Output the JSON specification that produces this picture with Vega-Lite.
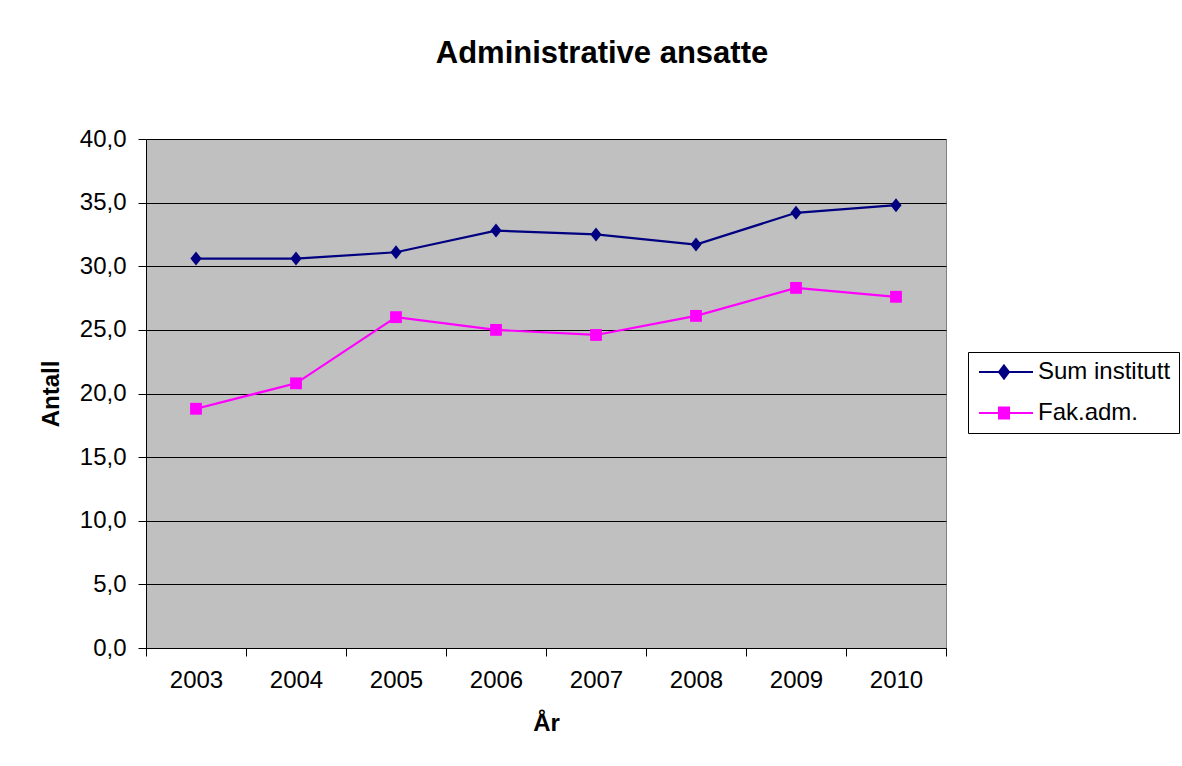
{
  "$schema": "https://vega.github.io/schema/vega-lite/v6.json",
  "width": 800,
  "height": 509,
  "autosize": {"type": "none"},
  "padding": {"left": 146, "top": 139, "right": 236, "bottom": 118},
  "background": "white",
  "title": {
    "text": "Administrative ansatte",
    "font": "Liberation Sans",
    "fontSize": 31,
    "fontWeight": "bold",
    "color": "black",
    "anchor": "middle",
    "frame": "group",
    "baseline": "alphabetic",
    "offset": 33,
    "dx": 56
  },
  "data": {
    "values": [
      {"year": "2003", "series": "Sum institutt", "value": 30.6},
      {"year": "2004", "series": "Sum institutt", "value": 30.6},
      {"year": "2005", "series": "Sum institutt", "value": 31.1},
      {"year": "2006", "series": "Sum institutt", "value": 32.8},
      {"year": "2007", "series": "Sum institutt", "value": 32.5},
      {"year": "2008", "series": "Sum institutt", "value": 31.7},
      {"year": "2009", "series": "Sum institutt", "value": 34.2},
      {"year": "2010", "series": "Sum institutt", "value": 34.8},
      {"year": "2003", "series": "Fak.adm.", "value": 18.8},
      {"year": "2004", "series": "Fak.adm.", "value": 20.8},
      {"year": "2005", "series": "Fak.adm.", "value": 26.0},
      {"year": "2006", "series": "Fak.adm.", "value": 25.0},
      {"year": "2007", "series": "Fak.adm.", "value": 24.6},
      {"year": "2008", "series": "Fak.adm.", "value": 26.1},
      {"year": "2009", "series": "Fak.adm.", "value": 28.3},
      {"year": "2010", "series": "Fak.adm.", "value": 27.6}
    ]
  },
  "encoding": {
    "x": {
      "field": "year",
      "type": "ordinal",
      "scale": {"type": "band", "paddingInner": 0, "paddingOuter": 0},
      "axis": {
        "title": "År",
        "tickBand": "extent",
        "labelAngle": 0,
        "labelFontSize": 24,
        "labelFont": "Liberation Sans",
        "labelColor": "black",
        "labelPadding": 12,
        "tickSize": 8,
        "tickColor": "black",
        "domainColor": "black",
        "titleFont": "Liberation Sans",
        "titleFontSize": 24,
        "titleFontWeight": "bold",
        "titleColor": "black",
        "titlePadding": 19,
        "grid": false
      }
    },
    "y": {
      "field": "value",
      "type": "quantitative",
      "scale": {"domain": [0, 40], "nice": false, "zero": true},
      "axis": {
        "title": "Antall",
        "values": [0, 5, 10, 15, 20, 25, 30, 35, 40],
        "labelExpr": "replace(format(datum.value, '.1f'), '.', ',')",
        "labelFontSize": 24,
        "labelFont": "Liberation Sans",
        "labelColor": "black",
        "labelPadding": 12,
        "tickSize": 8,
        "tickColor": "black",
        "domainColor": "black",
        "grid": true,
        "gridColor": "black",
        "gridOpacity": 1,
        "gridWidth": 1,
        "titleFont": "Liberation Sans",
        "titleFontSize": 24,
        "titleFontWeight": "bold",
        "titleColor": "black",
        "titlePadding": 16
      }
    },
    "color": {
      "field": "series",
      "type": "nominal",
      "scale": {"domain": ["Sum institutt", "Fak.adm."], "range": ["#000080", "#FF00FF"]}
    }
  },
  "layer": [
    {
      "mark": {"type": "line", "strokeWidth": 2.2}
    },
    {
      "transform": [{"filter": "datum.series === 'Sum institutt'"}],
      "mark": {"type": "point", "filled": true, "opacity": 1, "shape": "M0,-1L0.8,0L0,1L-0.8,0Z", "size": 196}
    },
    {
      "transform": [{"filter": "datum.series === 'Fak.adm.'"}],
      "mark": {"type": "point", "filled": true, "opacity": 1, "shape": "square", "size": 140}
    },
    {
      "mark": {"type": "point", "filled": true, "opacity": 0},
      "encoding": {
        "shape": {
          "field": "series",
          "type": "nominal",
          "scale": {
            "domain": ["Sum institutt", "Fak.adm."],
            "range": [
              "M-0.9,0H4.5M1.6,-0.65L2.1,0L1.6,0.65L1.1,0Z",
              "M-0.9,0H4.5M1.1,-0.55H2.1V0.55H1.1Z"
            ]
          }
        }
      }
    }
  ],
  "config": {
    "view": {"fill": "#C0C0C0", "stroke": "#808080", "strokeWidth": 1},
    "font": "Liberation Sans",
    "legend": {
      "orient": "none",
      "legendX": 822,
      "legendY": 213,
      "title": null,
      "strokeColor": "black",
      "fillColor": "white",
      "padding": 8,
      "labelFontSize": 24,
      "labelFont": "Liberation Sans",
      "labelColor": "black",
      "rowPadding": 17,
      "labelOffset": 38,
      "symbolSize": 400,
      "symbolOpacity": 1,
      "symbolStrokeWidth": 2
    }
  }
}
